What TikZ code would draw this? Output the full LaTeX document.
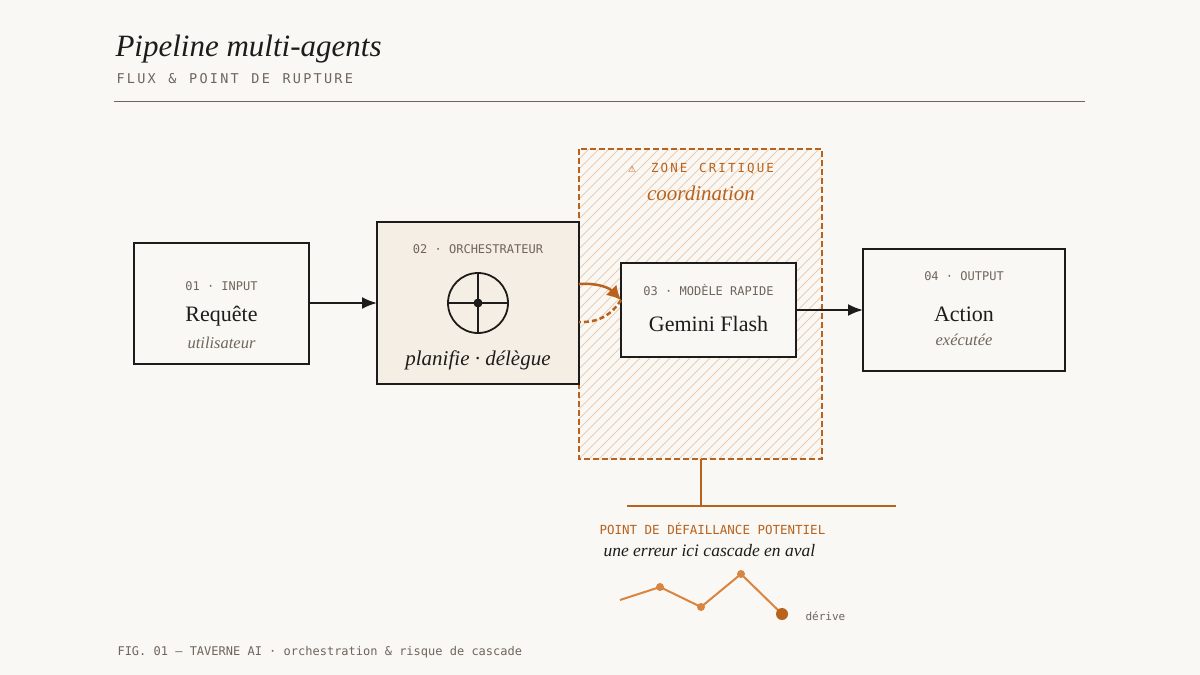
\documentclass[tikz,border=0pt]{standalone}
\usepackage{fontspec}
\setmainfont{Liberation Serif}
\setmonofont{DejaVu Sans Mono}
\newfontfamily\symfont{DejaVu Sans}
\usetikzlibrary{arrows.meta, positioning, calc}
\definecolor{paper}{HTML}{FAF8F4}
\definecolor{ink}{HTML}{1E1C1A}
\definecolor{rust}{HTML}{B8621E}
\definecolor{rustlight}{HTML}{EDCDB0}
\definecolor{mute}{HTML}{6E655C}
\definecolor{cream}{HTML}{F4EEE5}
\definecolor{drift}{HTML}{D9843F}
\tikzset{box/.style = {draw=ink, line width=2.2pt, fill=paper}}
\tikzset{tag/.style = {font=\ttfamily\fontsize{12}{12}\selectfont, text=mute}}
\tikzset{big/.style = {font=\fontsize{22}{22}\selectfont, text=ink}}
\tikzset{sub/.style = {font=\itshape\fontsize{16.5}{16.5}\selectfont, text=mute}}
\tikzset{flow/.style = {-{Latex[length=15pt,width=12pt]}, draw=ink, line width=2pt}}
\tikzset{warn/.style = {draw=rust, line width=1.8pt}}
\begin{document}
\begin{tikzpicture}[x=1pt, y=-1pt]
  \fill[paper] (0,0) rectangle (1200,675);
  \useasboundingbox (0,0) rectangle (1200,675);
  % Title block
  \node[anchor=base west, font=\itshape\fontsize{31}{31}\selectfont, text=ink] (title) at (112,56) {Pipeline multi-agents};
  \node[anchor=base west, font=\ttfamily\fontsize{13.5}{13.5}\selectfont, text=mute] (subtitle) at (113,83)
    {F\,L\,U\,X\, \,\&\, \,P\,O\,I\,N\,T\, \,D\,E\, \,R\,U\,P\,T\,U\,R\,E};
  \draw[mute, line width=1pt] (114,101) -- (1085,101);
  % Critical zone
  \begin{scope}
    \clip (579,149) rectangle (822,459);
    \foreach \k in {0,10,...,560} {
      \draw[rustlight, line width=1pt] (579+\k-320,459) -- (579+\k,139);
    }
  \end{scope}
  \draw[warn, dash pattern=on 6pt off 3pt] (579,149) rectangle (822,459);
  \node[font=\ttfamily\fontsize{12.5}{12.5}\selectfont, text=rust] (zonetag) at (701,169)
    {{\symfont\fontsize{9}{9}\selectfont ⚠}\ \ Z\,O\,N\,E\, \,C\,R\,I\,T\,I\,Q\,U\,E};
  \node[font=\itshape\fontsize{21}{21}\selectfont, text=rust] (zonename) at (701,193) {coordination};
  % Boxes
  \draw[box] (134,243) rectangle (309,364);
  \coordinate (inE) at (309,303);
  \node[tag] (intag) at (221.5,286) {01 · INPUT};
  \node[big] (inname) at (221.5,316) {Requête};
  \node[sub] (insub) at (221.5,343) {utilisateur};
  \draw[box, fill=cream] (377,222) rectangle (579,384);
  \coordinate (orchW) at (377,303);
  \coordinate (orchE) at (579,284);
  \coordinate (orchR) at (579,322);
  \node[tag] (orchtag) at (478,249) {02 · ORCHESTRATEUR};
  \node[circle, draw=ink, line width=1.8pt, minimum size=60pt, inner sep=0pt] (target) at (478,303) {};
  \draw[ink, line width=1.3pt] (target.north) -- (target.south) (target.west) -- (target.east);
  \fill[ink] (target.center) circle (4.5pt);
  \node[font=\itshape\fontsize{21}{21}\selectfont, text=ink] (orchsub) at (478,360) {planifie · délègue};
  \draw[box] (621,263) rectangle (796,357);
  \coordinate (fastW) at (621,300);
  \coordinate (fastE) at (796,310);
  \node[tag] (fasttag) at (708.5,290) {03 · MODÈLE RAPIDE};
  \node[big] (fastname) at (708.5,324) {Gemini Flash};
  \draw[box] (863,249) rectangle (1065,371);
  \coordinate (outW) at (863,310);
  \node[tag] (outtag) at (964,276) {04 · OUTPUT};
  \node[big] (outname) at (964,314) {Action};
  \node[sub] (outsub) at (964,340) {exécutée};
  % Flow
  \draw[flow] (inE) -- (orchW);
  \draw[flow] (fastE) -- (outW);
  \draw[warn, line width=2.5pt, -{Latex[length=14pt,width=15pt]}] (orchE) to[bend left=25] (fastW);
  \draw[warn, line width=2.5pt, dash pattern=on 5pt off 3pt] (fastW) to[bend left=30] (orchR);
  % Failure callout
  \coordinate (zoneS) at (701,459);
  \coordinate (brace) at (701,506);
  \draw[warn, line width=1.5pt] (zoneS) -- (brace);
  \draw[warn, line width=1.5pt] (627,506) -- (896,506);
  \node[anchor=base west, font=\ttfamily\fontsize{12.5}{12.5}\selectfont, text=rust] (failtag) at (596,534) {POINT DE DÉFAILLANCE POTENTIEL};
  \node[anchor=base west, font=\itshape\fontsize{17.5}{17.5}\selectfont, text=ink] (failsub) at (600,556) {une erreur ici cascade en aval};
  % Drift line
  \draw[drift, line width=2pt] (620,600) -- (660,587) -- (701,607) -- (741,574) -- (782,614);
  \foreach \p in {(660,587),(701,607),(741,574)} \fill[drift] \p circle (4pt);
  \fill[rust] (782,614) circle (6pt);
  \node[anchor=base west, font=\ttfamily\fontsize{11}{11}\selectfont, text=mute] (drift) at (802,620) {dérive};
  % Footer
  \node[anchor=base west, font=\ttfamily\fontsize{12}{12}\selectfont, text=mute] (footer) at (114,655)
    {FIG. 01 — TAVERNE AI · orchestration \& risque de cascade};
\end{tikzpicture}
\end{document}
